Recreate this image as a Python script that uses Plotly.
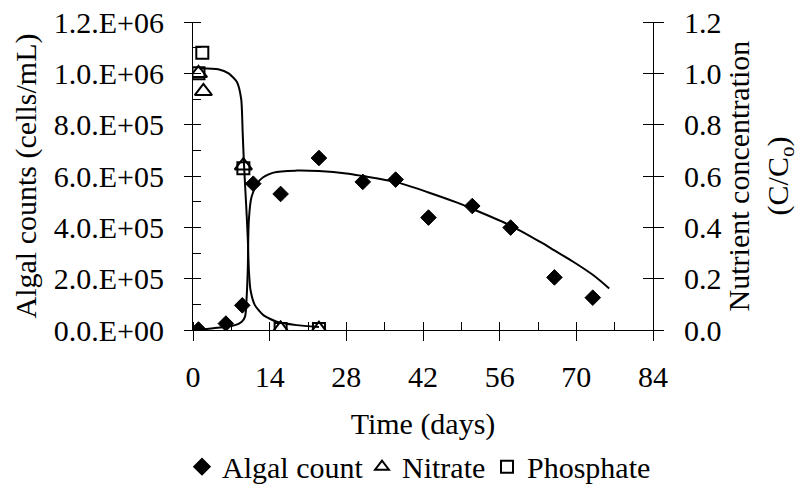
import plotly.graph_objects as go

# ---------------- data ----------------
algal_days = [1, 6, 9, 11, 16, 23, 31, 37, 43, 51, 58, 66, 73]
algal_counts = [2e3, 2.5e4, 9.6e4, 5.7e5, 5.3e5, 6.7e5, 5.77e5, 5.86e5, 4.38e5, 4.83e5, 3.99e5, 2.05e5, 1.26e5]

nitrate_days = [1, 1.9, 9.2, 16, 23]
nitrate_conc = [1.0, 0.93, 0.64, 0.004, 0.003]

phosphate_days = [1, 1.7, 9.2, 16, 23]
phosphate_conc = [1.0, 1.08, 0.63, 0.004, 0.004]

# fitted curves
algal_fit_days = [1, 3.7, 6, 7.7, 8.9, 9.5, 9.8, 10.0, 10.2, 10.7, 12.2, 14.7, 18.9, 23, 28, 31, 37, 43, 48, 51, 58, 63.5, 66, 69.5, 73, 76]
algal_fit_vals = [0, 7e3, 1.3e4, 1.9e4, 3.2e4, 5.2e4, 1.3e5, 2.34e5, 4.28e5, 5.19e5, 5.84e5, 6.13e5, 6.21e5, 6.19e5, 6.10e5, 6.0e5, 5.77e5, 5.36e5, 4.98e5, 4.72e5, 4.07e5, 3.42e5, 3.1e5, 2.65e5, 2.15e5, 1.62e5]

nutrient_fit_days = [1.2, 4.6, 6.5, 8.0, 8.8, 9.07, 9.3, 9.7, 10.0, 10.2, 10.5, 11.3, 12.85, 15.3, 18.9, 23]
nutrient_fit_vals = [1.02, 1.016, 1.0, 0.967, 0.90, 0.77, 0.65, 0.49, 0.36, 0.234, 0.156, 0.097, 0.058, 0.032, 0.019, 0.012]

x_ticks = [0, 14, 28, 42, 56, 70, 84]
left_tickvals = [0, 2e5, 4e5, 6e5, 8e5, 1.0e6, 1.2e6]
left_ticktext = ["0.0.E+00", "2.0.E+05", "4.0.E+05", "6.0.E+05", "8.0.E+05", "1.0.E+06", "1.2.E+06"]
right_tickvals = [0, 0.2, 0.4, 0.6, 0.8, 1.0, 1.2]
right_ticktext = ["0.0", "0.2", "0.4", "0.6", "0.8", "1.0", "1.2"]

FONT = "Liberation Serif, Times New Roman, serif"

fig = go.Figure()

fig.add_trace(go.Scatter(x=algal_fit_days, y=algal_fit_vals, mode="lines",
                         line=dict(color="black", width=2, shape="spline", smoothing=0.8),
                         showlegend=False, hoverinfo="skip", yaxis="y"))
fig.add_trace(go.Scatter(x=nutrient_fit_days, y=nutrient_fit_vals, mode="lines",
                         line=dict(color="black", width=2, shape="spline", smoothing=0.6),
                         showlegend=False, hoverinfo="skip", yaxis="y2"))

fig.add_trace(go.Scatter(x=algal_days, y=algal_counts, mode="markers", name="Algal count",
                         marker=dict(symbol="diamond", size=12, color="black",
                                     line=dict(color="black", width=1)),
                         yaxis="y", legend="legend"))
fig.add_trace(go.Scatter(x=nitrate_days, y=nitrate_conc, mode="markers", name="Nitrate",
                         marker=dict(symbol="triangle-up-open", size=15, color="black",
                                     line=dict(color="black", width=2)),
                         yaxis="y2", legend="legend2"))
fig.add_trace(go.Scatter(x=phosphate_days, y=phosphate_conc, mode="markers", name="Phosphate",
                         marker=dict(symbol="square-open", size=12, color="black",
                                     line=dict(color="black", width=2)),
                         yaxis="y2", legend="legend3"))

tickfont = dict(family=FONT, size=30, color="black")
legfont = dict(family=FONT, size=30, color="black")
leg_common = dict(orientation="h", xref="container", yref="container",
                  xanchor="left", yanchor="middle", y=0.063,
                  font=legfont, itemsizing="constant", bgcolor="rgba(0,0,0,0)",
                  borderwidth=0)

fig.update_layout(
    width=799, height=498,
    margin=dict(l=193, r=146, t=22, b=168, autoexpand=False),
    paper_bgcolor="white", plot_bgcolor="white",
    font=dict(family=FONT, size=30, color="black"),
    showlegend=True,
    legend=dict(x=182 / 799, **leg_common),
    legend2=dict(x=362 / 799, **leg_common),
    legend3=dict(x=487 / 799, **leg_common),
    xaxis=dict(range=[0, 84], tickmode="array", tickvals=x_ticks,
               ticks="outside", ticklen=10, tickwidth=1, tickcolor="black",
               minor=dict(tickmode="linear", tick0=0, dtick=7, ticks="inside", ticklen=8,
                          tickwidth=1, tickcolor="black"),
               showline=True, linecolor="black", linewidth=1,
               showgrid=False, zeroline=False, tickfont=tickfont,
               ticklabelstandoff=10,
               title=dict(text="Time (days)", font=dict(family=FONT, size=30), standoff=23)),
    xaxis2=dict(range=[0, 84], overlaying="x", side="top", showline=True,
                linecolor="#808080", linewidth=1, ticks="", showticklabels=False,
                showgrid=False, zeroline=False),
    yaxis=dict(range=[0, 1.2e6], tickmode="array", tickvals=left_tickvals, ticktext=left_ticktext,
               ticks="outside", ticklen=8, tickwidth=1, tickcolor="black",
               minor=dict(tickmode="linear", tick0=0, dtick=1e5, ticks="inside", ticklen=8,
                          tickwidth=1, tickcolor="black"),
               showline=True, linecolor="black", linewidth=1,
               showgrid=False, zeroline=False, tickfont=tickfont,
               ticklabelstandoff=14,
               title=dict(text="Algal counts (cells/mL)", font=dict(family=FONT, size=30), standoff=8)),
    yaxis2=dict(range=[0, 1.2], overlaying="y", side="right", anchor="x",
                tickmode="array", tickvals=right_tickvals, ticktext=right_ticktext,
                ticks="outside", ticklen=10, tickwidth=1, tickcolor="black",
                minor=dict(tickmode="linear", tick0=0, dtick=0.2, ticks="inside", ticklen=10,
                           tickwidth=1, tickcolor="black"),
                showline=True, linecolor="black", linewidth=1,
                showgrid=False, zeroline=False, tickfont=tickfont,
                ticklabelstandoff=14,
                title=dict(text="Nutrient concentration<br>(C/C<sub>o</sub>)",
                           font=dict(family=FONT, size=30), standoff=8)),
)

fig.write_html("out.html")
